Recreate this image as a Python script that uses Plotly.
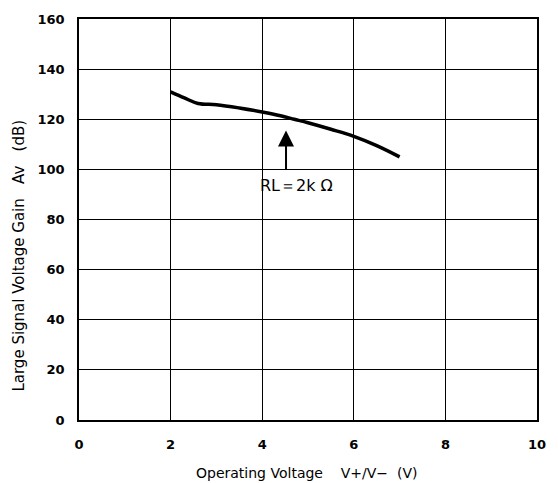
import plotly.graph_objects as go

voltage = [2.0, 2.3, 2.6, 3.0, 3.5, 4.0, 4.4, 4.7, 5.0, 5.5, 6.0, 6.5, 7.0]
gain = [130.9, 128.5, 126.3, 125.8, 124.5, 122.9, 121.4, 120.0, 118.6, 116.0, 113.2, 109.5, 105.0]

x_ticks = [0, 2, 4, 6, 8, 10]
y_ticks = [0, 20, 40, 60, 80, 100, 120, 140, 160]

x_title = "Operating Voltage    V+/V−  (V)"
y_title = "Large Signal Voltage Gain   Av   (dB)"
annot_text = "RL＝2k Ω"
arrow_x = 4.52
arrow_tail = 99.2
arrow_tip = 115.5
label_x = 4.75
label_y = 93.5

fig = go.Figure()
fig.add_trace(go.Scatter(x=voltage, y=gain, mode="lines",
                         line=dict(color="black", width=3.5, shape="spline"),
                         showlegend=False, hoverinfo="skip"))

fig.add_annotation(x=arrow_x, y=arrow_tip, ax=arrow_x, ay=arrow_tail,
                   xref="x", yref="y", axref="x", ayref="y",
                   showarrow=True, arrowhead=2, arrowsize=1.6, arrowwidth=2,
                   arrowcolor="black", text="")
fig.add_annotation(x=label_x, y=label_y, xref="x", yref="y", text=annot_text,
                   showarrow=False,
                   font=dict(family="DejaVu Sans", size=16, color="black"))

fig.add_annotation(x=0.497, y=-0.131, xref="paper", yref="paper", text=x_title,
                   showarrow=False, xanchor="center", yanchor="middle",
                   font=dict(family="DejaVu Sans", size=14, color="black"))
fig.add_annotation(x=-0.131, y=0.41, xref="paper", yref="paper", text=y_title,
                   showarrow=False, textangle=-90, xanchor="center", yanchor="middle",
                   font=dict(family="DejaVu Sans", size=15, color="black"))

axis_font = dict(family="DejaVu Sans", size=13, color="black", weight="bold")

fig.update_xaxes(range=[0, 10], tickvals=x_ticks, ticktext=[str(v) for v in x_ticks],
                 showgrid=True, gridcolor="black", gridwidth=1,
                 showline=True, linecolor="black", linewidth=1.5, mirror=True,
                 zeroline=False, ticks="", tickfont=axis_font, ticklabelstandoff=12)
fig.update_yaxes(range=[0, 160], tickvals=y_ticks, ticktext=[str(v) for v in y_ticks],
                 showgrid=True, gridcolor="black", gridwidth=1,
                 showline=True, linecolor="black", linewidth=1.5, mirror=True,
                 zeroline=False, ticks="", tickfont=axis_font, ticklabelstandoff=10)

fig.update_layout(width=558, height=483,
                  margin=dict(l=79, r=14, t=17, b=63),
                  plot_bgcolor="white", paper_bgcolor="white")

fig.write_html("out.html")
